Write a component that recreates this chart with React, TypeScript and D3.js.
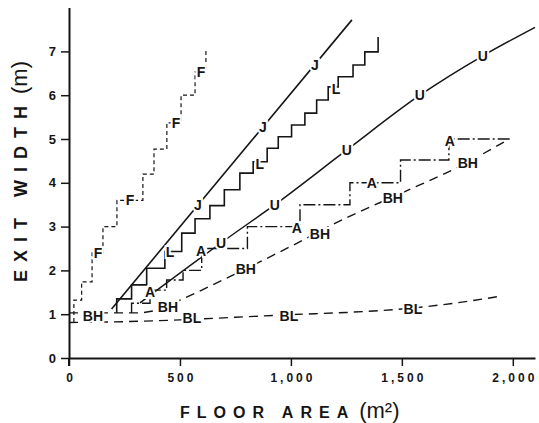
import React, { useEffect, useRef } from 'react'
import * as d3 from 'd3'

const xTicks = [0, 500, 1000, 1500, 2000]
const yTicks = [0, 1, 2, 3, 4, 5, 6, 7]

// F: dashed staircase
const fArea = [22, 22, 57, 104, 153, 216, 333, 383, 441, 505, 568, 617]
const fWidth = [0.82, 1.32, 1.74, 2.4, 3.0, 3.6, 4.2, 4.77, 5.37, 6.0, 6.53, 7.08]
const fLabelArea = [131, 275, 482, 595]
const fLabelWidth = [2.4, 3.6, 5.37, 6.53]

// J: straight line
const jArea = [192, 1275]
const jWidth = [1.12, 7.72]
const jLabelArea = [581, 874, 1108]
const jLabelWidth = [3.49, 5.28, 6.7]

// L: solid staircase
const lArea = [215, 215, 282, 350, 432, 508, 568, 635, 700, 770, 830, 893, 943, 1003, 1063, 1116, 1168, 1213, 1280, 1333, 1393]
const lWidth = [1.03, 1.35, 1.67, 2.05, 2.43, 2.85, 3.18, 3.48, 3.84, 4.22, 4.48, 4.79, 5.05, 5.32, 5.59, 5.89, 6.19, 6.42, 6.69, 6.99, 7.33]
const lLabelArea = [455, 860, 1203]
const lLabelWidth = [2.43, 4.43, 6.14]

// U: solid line
const uArea = [320, 716, 928, 1252, 1581, 1865, 2100]
const uWidth = [1.26, 2.74, 3.5, 4.75, 6.0, 6.9, 7.55]
const uLabelArea = [685, 928, 1252, 1581, 1865]
const uLabelWidth = [2.63, 3.5, 4.75, 6.0, 6.9]

// A: dash-dot staircase
const aArea = [282, 282, 365, 440, 514, 598, 804, 1041, 1266, 1494, 1712, 1986]
const aWidth = [1.03, 1.25, 1.55, 1.78, 2.0, 2.5, 3.0, 3.5, 4.0, 4.52, 5.0, 5.0]
const aLabelArea = [365, 595, 1027, 1365, 1716]
const aLabelWidth = [1.51, 2.44, 2.97, 4.0, 4.95]

// BH: dashed curve
const bhArea = [0, 300, 400, 500, 750, 1000, 1250, 1500, 1750, 1960]
const bhWidth = [1.03, 1.03, 1.1, 1.32, 1.92, 2.55, 3.2, 3.77, 4.35, 4.93]
const bhLabelArea = [108, 446, 797, 1131, 1459, 1797]
const bhLabelWidth = [0.97, 1.16, 2.03, 2.83, 3.65, 4.45]

// BL: dashed curve
const blArea = [0, 250, 500, 750, 1000, 1250, 1500, 1750, 1930]
const blWidth = [0.81, 0.83, 0.87, 0.93, 0.99, 1.04, 1.12, 1.26, 1.4]
const blLabelArea = [554, 991, 1550]
const blLabelWidth = [0.91, 0.96, 1.12]

const App = () => {
    const ref = useRef<SVGSVGElement>(null)

    useEffect(() => {
        const svg = d3.select(ref.current)
        svg.selectAll('*').remove()
        const font = '"Liberation Sans", Arial, Helvetica, sans-serif'
        const ink = '#151515'

        const x = d3.scaleLinear().domain([0, 2100]).range([69, 535])
        const y = d3.scaleLinear().domain([0, 8]).range([358, 7.6])

        // axes
        const gx = svg.append('g')
            .attr('transform', `translate(0,${y(0)})`)
            .call(d3.axisBottom(x).tickValues(xTicks).tickSize(8).tickSizeOuter(0).tickFormat(d3.format(',')))
        gx.select('.domain').attr('stroke', ink).attr('stroke-width', 2)
        gx.selectAll('.tick line').attr('stroke', ink).attr('stroke-width', 1.5)
        gx.selectAll('.tick text')
            .attr('y', 15)
            .attr('dx', 1.5)
            .attr('fill', ink)
            .attr('font-family', font)
            .attr('font-weight', 'bold')
            .attr('font-size', 12)
            .attr('letter-spacing', 3)

        const gy = svg.append('g')
            .attr('transform', `translate(${x(0)},0)`)
            .call(d3.axisLeft(y).tickValues(yTicks).tickSize(8).tickSizeOuter(0))
        gy.select('.domain').attr('stroke', ink).attr('stroke-width', 2)
        gy.selectAll('.tick line').attr('stroke', ink).attr('stroke-width', 1.5)
        gy.selectAll('.tick text')
            .attr('x', -13)
            .attr('fill', ink)
            .attr('font-family', font)
            .attr('font-weight', 'bold')
            .attr('font-size', 13)
        svg.append('line')
            .attr('x1', x(0)).attr('x2', x(0))
            .attr('y1', y(0)).attr('y2', y(0) + 8)
            .attr('stroke', ink).attr('stroke-width', 2)

        // axis titles
        const xt = svg.append('text')
            .attr('x', 180).attr('y', 418)
            .attr('fill', ink)
            .attr('font-family', font)
        xt.append('tspan')
            .attr('font-weight', 'bold').attr('font-size', 16).attr('letter-spacing', 7)
            .text('FLOOR AREA')
        xt.append('tspan')
            .attr('dx', 4).attr('font-size', 22)
            .text('(m²)')

        const yt = svg.append('text')
            .attr('transform', 'translate(27,282) rotate(-90)')
            .attr('fill', ink)
            .attr('font-family', font)
        yt.append('tspan')
            .attr('font-weight', 'bold').attr('font-size', 18).attr('letter-spacing', 8)
            .text('EXIT WIDTH')
        yt.append('tspan')
            .attr('dx', 4).attr('font-size', 22)
            .text('(m)')

        const drawSeries = (areas, widths, curve, dash, sw) => {
            const line = d3.line<number>()
                .x(i => x(areas[i]))
                .y(i => y(widths[i]))
                .curve(curve)
            svg.append('path')
                .attr('d', line(d3.range(areas.length)))
                .attr('fill', 'none')
                .attr('stroke', ink)
                .attr('stroke-width', sw)
                .attr('stroke-dasharray', dash)
        }

        drawSeries(blArea, blWidth, d3.curveMonotoneX, '9,6', 1.4)
        drawSeries(bhArea, bhWidth, d3.curveMonotoneX, '9,6', 1.4)
        drawSeries(fArea, fWidth, d3.curveStepAfter, '4,3', 1.2)
        drawSeries(jArea, jWidth, d3.curveLinear, null, 1.6)
        drawSeries(lArea, lWidth, d3.curveStepAfter, null, 1.6)
        drawSeries(uArea, uWidth, d3.curveMonotoneX, null, 1.5)
        drawSeries(aArea, aWidth, d3.curveStepAfter, '12,3,2,3', 1.4)

        const drawLabels = (text, areas, widths) => {
            svg.append('g')
                .selectAll('text')
                .data(areas)
                .join('text')
                .attr('x', d => x(d))
                .attr('y', (d, i) => y(widths[i]) + 5)
                .attr('text-anchor', 'middle')
                .attr('font-family', font)
                .attr('font-weight', 'bold')
                .attr('font-size', 14)
                .attr('fill', ink)
                .attr('stroke', '#fff')
                .attr('stroke-width', 4)
                .attr('paint-order', 'stroke')
                .text(text)
        }

        drawLabels('F', fLabelArea, fLabelWidth)
        drawLabels('J', jLabelArea, jLabelWidth)
        drawLabels('L', lLabelArea, lLabelWidth)
        drawLabels('U', uLabelArea, uLabelWidth)
        drawLabels('A', aLabelArea, aLabelWidth)
        drawLabels('BH', bhLabelArea, bhLabelWidth)
        drawLabels('BL', blLabelArea, blLabelWidth)
    }, [])

    return (
        <svg
            ref={ref}
            width={539}
            height={423}
            style={{ position: 'absolute', left: 0, top: 0, background: '#fff' }}
        />
    )
}

export default App
